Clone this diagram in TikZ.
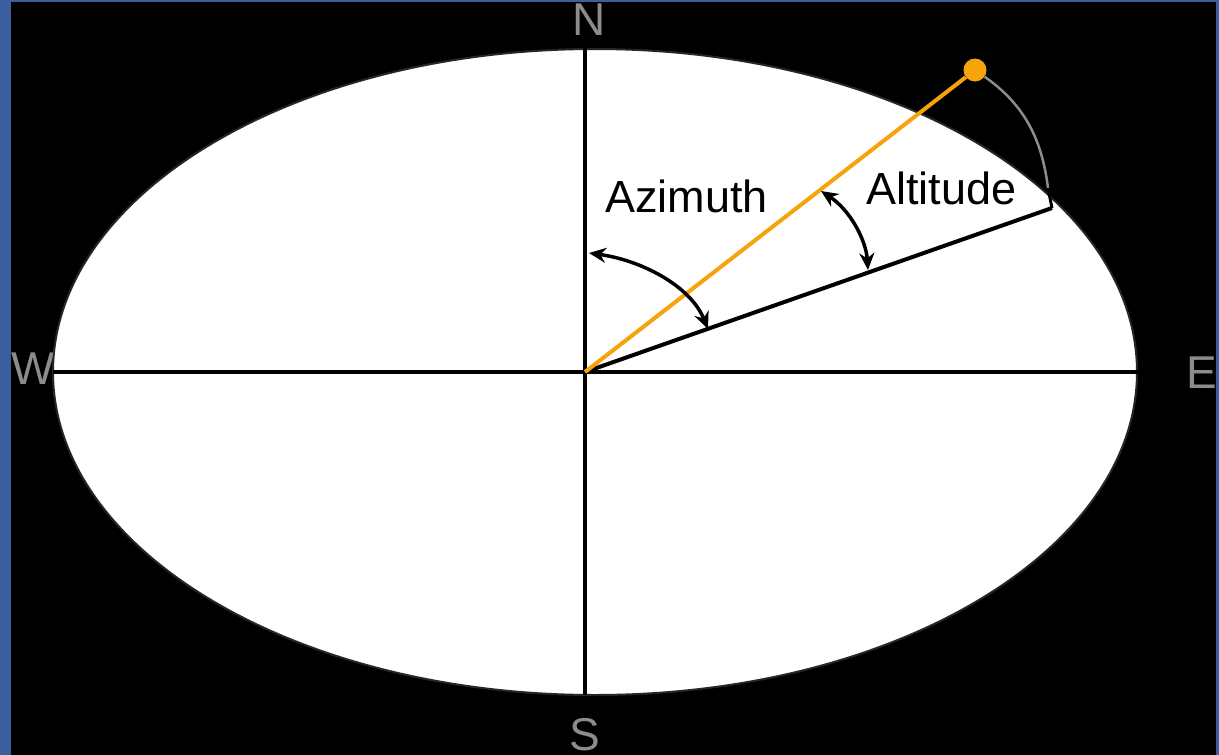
\documentclass[tikz,border=0pt]{standalone}
\usepackage{fontspec}
\setmainfont{Liberation Sans}
\usetikzlibrary{arrows.meta, positioning}
\definecolor{sunorange}{HTML}{F7A30C}
\definecolor{frameblue}{HTML}{3B5E9E}
\definecolor{lettergray}{HTML}{8C8C8C}

\begin{document}
\begin{tikzpicture}[x=1pt, y=-1pt,
  compass/.style={font=\fontsize{46}{50}\selectfont, text=lettergray,
                  inner sep=0pt, anchor=base},
  caption/.style={font=\fontsize{45}{50}\selectfont, inner sep=0pt,
                  anchor=base west},
  axis/.style={line width=4pt},
  angle/.style={line width=3.5pt,
                {Stealth[length=17pt,width=15pt]}-{Stealth[length=17pt,width=15pt]}},
]
\useasboundingbox (0,0) rectangle (1219,755);
\fill[black] (0,0) rectangle (1219,755);
\fill[frameblue] (0,0) rectangle (11,755);
\fill[frameblue] (0,0) rectangle (1219,2);
\fill[frameblue] (1216,0) rectangle (1219,755);

% compass letters
\node[compass] (north) at (589,35) {N};
\node[compass] (south) at (585,750) {S};
\node[compass] (west) at (33,384) {W};
\node[compass] (east) at (1202,388) {E};

% horizon
\draw[fill=white, draw=black!85, line width=2pt] (595,372) ellipse [x radius=542, y radius=323];

\coordinate (o) at (585,372);
\coordinate (n) at (585,48);
\coordinate (s) at (585,695);
\coordinate (w) at (53,372);
\coordinate (e) at (1138,372);
\coordinate (gp) at (1052,208);
\coordinate (gc) at (1048,188);
\node[circle, fill=sunorange, minimum size=23pt, inner sep=0pt] (sun) at (975,70) {};

\draw[axis] (n) -- (s);
\draw[axis] (w) -- (e);
\draw[axis] (o) -- (gp);
\draw[line width=3pt] (gp) -- (gc);
\draw[lettergray, line width=2.5pt] (gc) .. controls (1042,140) and (1025,105) .. (sun);
\draw[sunorange, line width=4pt] (o) -- (sun);

% angles
\coordinate (az1) at (589,253);
\coordinate (az2) at (708,329);
\coordinate (al1) at (868,270);
\coordinate (al2) at (821,191);
\draw[angle] (az1) .. controls (640,260) and (690,285) .. (az2);
\draw[angle] (al1) .. controls (866,240) and (850,210) .. (al2);

\node[caption] (azimuth) at (605,212) {Azimuth};
\node[caption] (altitude) at (866,204) {Altitude};
\end{tikzpicture}
\end{document}
